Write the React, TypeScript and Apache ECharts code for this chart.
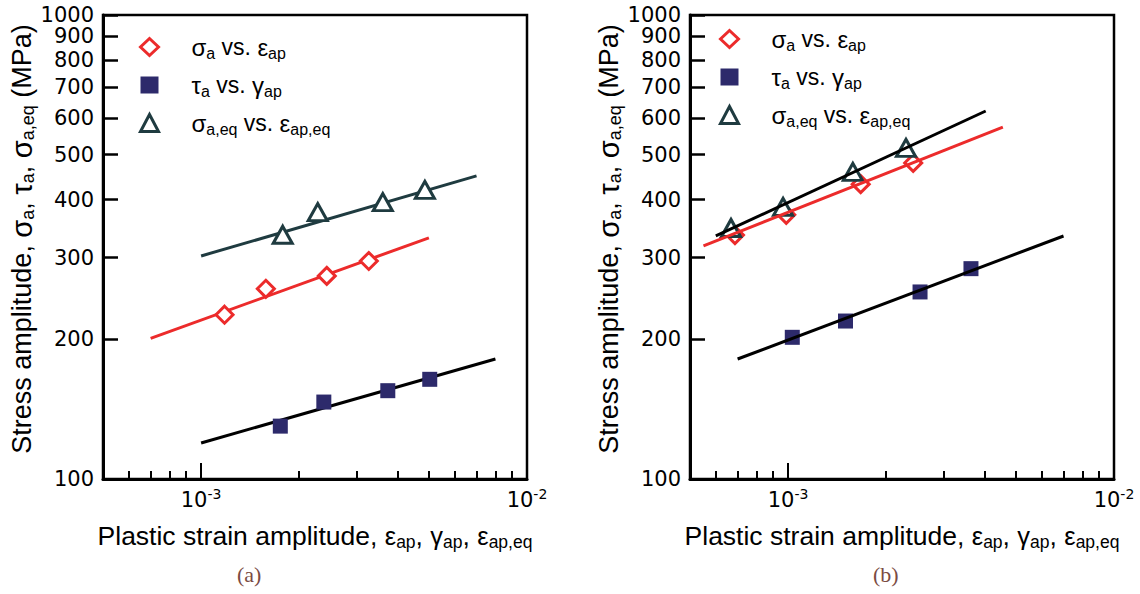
import React, { useEffect, useRef } from 'react';
import * as echarts from 'echarts';

const RED = '#ec2b2b';
const NAVY = '#2d2a6b';
const TEAL = '#1f3b40';
const BLACK = '#000000';

// ---- panel (a) ----
const aSigmaX = [1.18e-3, 1.58e-3, 2.43e-3, 3.27e-3];
const aSigmaY = [226, 257, 274, 295];
const aSigmaFitX = [7.0e-4, 5.0e-3];
const aSigmaFitY = [201, 331];
const aTauX = [1.75e-3, 2.38e-3, 3.74e-3, 5.03e-3];
const aTauY = [130, 146.5, 155, 164];
const aTauFitX = [1.0e-3, 8.0e-3];
const aTauFitY = [119.6, 181.4];
const aEqX = [1.78e-3, 2.28e-3, 3.61e-3, 4.86e-3];
const aEqY = [336, 376, 395, 420];
const aEqFitX = [1.0e-3, 7.0e-3];
const aEqFitY = [302.5, 450];

// ---- panel (b) ----
const bSigmaX = [6.87e-4, 9.87e-4, 1.67e-3, 2.42e-3];
const bSigmaY = [335.5, 371, 432, 480];
const bSigmaFitX = [5.5e-4, 4.56e-3];
const bSigmaFitY = [318, 573];
const bTauX = [1.03e-3, 1.5e-3, 2.54e-3, 3.64e-3];
const bTauY = [202, 219, 253, 284];
const bTauFitX = [7.0e-4, 7.0e-3];
const bTauFitY = [181.4, 334];
const bEqX = [6.68e-4, 9.65e-4, 1.58e-3, 2.3e-3];
const bEqY = [347.5, 386, 459, 517];
const bEqFitX = [6.0e-4, 4.04e-3];
const bEqFitY = [334, 621];

// ---- axes ----
const xMin = 5e-4;
const xMax = 1e-2;
const yMin = 100;
const yMax = 1000;
const yTicks = [100, 200, 300, 400, 500, 600, 700, 800, 900, 1000];
const xMajorTicks = [1e-3, 1e-2];
const xMinorTicks = [6e-4, 7e-4, 8e-4, 9e-4, 2e-3, 3e-3, 4e-3, 5e-3, 6e-3, 7e-3, 8e-3, 9e-3];
const legendNames = ['σa vs. εap', 'τa vs. γap', 'σa,eq vs. εap,eq'];
const legendRich = [
  '{sp| }{g|σ}{s|a}{m| vs. }{g|ε}{s|ap}',
  '{sp| }{g|τ}{s|a}{m| vs. }{g|γ}{s|ap}',
  '{sp| }{g|σ}{s|a,eq}{m| vs. }{g|ε}{s|ap,eq}',
];
const captions = ['(a)', '(b)'];

const SANS = '"Liberation Sans", Arial, sans-serif';
const TICKFONT = '"DejaVu Sans", sans-serif';
const EPS = 1.000001; // guards the log-scale rounding of the top tick

const zip = (xs: number[], ys: number[]) => xs.map((x, i) => [x, ys[i]]);

// the 900 label sits too close to 1000 for ECharts' overlap check, so it is carried by the overlay axis
const yLabelsMain = yTicks.filter((_, i) => i !== yTicks.length - 2);
const yLabelsAlt = [yTicks[yTicks.length - 2]];

const panels = [
  {
    left: 103,
    sigma: zip(aSigmaX, aSigmaY), sigmaFit: zip(aSigmaFitX, aSigmaFitY),
    tau: zip(aTauX, aTauY), tauFit: zip(aTauFitX, aTauFitY),
    eq: zip(aEqX, aEqY), eqFit: zip(aEqFitX, aEqFitY),
    eqFitColor: TEAL, lineZ: 2, caption: captions[0], capX: 249,
    legLeft: 134, legTop: 30,
  },
  {
    left: 690,
    sigma: zip(bSigmaX, bSigmaY), sigmaFit: zip(bSigmaFitX, bSigmaFitY),
    tau: zip(bTauX, bTauY), tauFit: zip(bTauFitX, bTauFitY),
    eq: zip(bEqX, bEqY), eqFit: zip(bEqFitX, bEqFitY),
    eqFitColor: BLACK, lineZ: 5, caption: captions[1], capX: 885,
    legLeft: 714, legTop: 22,
  },
];

const GRID_TOP = 15;
const GRID_W = 424;
const GRID_H = 464;

const yLabelStyle = {
  show: true, margin: 9, fontFamily: TICKFONT, fontSize: 21, lineHeight: 18, color: '#000',
  showMinLabel: true, showMaxLabel: true, hideOverlap: false,
  formatter: (v: number) => String(Math.round(v)),
};

export default function App() {
  const ref = useRef<HTMLDivElement>(null);
  useEffect(() => {
    if (!ref.current) return;
    const chart = echarts.init(ref.current, undefined, { renderer: 'svg' });

    const grid: any[] = [];
    const xAxis: any[] = [];
    const yAxis: any[] = [];
    const series: any[] = [];
    const legend: any[] = [];
    const graphic: any[] = [];

    panels.forEach((p, i) => {
      const g = i * 2;
      grid.push({ left: p.left, top: GRID_TOP, width: GRID_W, height: GRID_H, show: true, borderColor: '#000', borderWidth: 2.5, backgroundColor: 'transparent' });
      grid.push({ left: p.left, top: GRID_TOP, width: GRID_W, height: GRID_H, show: false });

      xAxis.push({
        gridIndex: g, type: 'log', logBase: 10, min: xMin, max: xMax * EPS,
        axisLine: { show: true, lineStyle: { color: '#000', width: 3 } },
        axisTick: { show: true, inside: true, length: 16, lineStyle: { color: '#000', width: 2 }, customValues: xMajorTicks },
        axisLabel: {
          show: true, customValues: xMajorTicks, margin: 8, showMinLabel: true, showMaxLabel: true,
          formatter: (v: number) => `{b|10}{p|${Math.round(Math.log10(v))}}`,
          rich: {
            b: { fontFamily: TICKFONT, fontSize: 21, color: '#000', lineHeight: 26 },
            p: { fontFamily: TICKFONT, fontSize: 14, color: '#000', lineHeight: 14, verticalAlign: 'top' },
          },
        },
        splitLine: { show: false },
        name: '{m|Plastic strain amplitude, }{g|ε}{s|ap}{m|, }{g|γ}{s|ap}{m|, }{g|ε}{s|ap,eq}',
        nameLocation: 'middle', nameGap: 42,
        nameTextStyle: {
          rich: {
            m: { fontFamily: SANS, fontSize: 26.5, color: '#000', lineHeight: 30 },
            g: { fontFamily: SANS, fontSize: 25.5, color: '#000', lineHeight: 30 },
            s: { fontFamily: SANS, fontSize: 17.5, color: '#000', lineHeight: 15, verticalAlign: 'bottom' },
          },
        },
      });
      xAxis.push({
        gridIndex: g + 1, type: 'log', logBase: 10, min: xMin, max: xMax * EPS,
        axisLine: { show: false },
        axisTick: { show: true, inside: true, length: 8, lineStyle: { color: '#000', width: 2 }, customValues: xMinorTicks },
        axisLabel: { show: false },
        splitLine: { show: false },
      });

      yAxis.push({
        gridIndex: g, type: 'log', logBase: 10, min: yMin, max: yMax * EPS,
        axisLine: { show: true, lineStyle: { color: '#000', width: 3 } },
        axisTick: { show: true, inside: true, length: 15, lineStyle: { color: '#000', width: 2.5 }, customValues: yTicks },
        axisLabel: { ...yLabelStyle, customValues: yLabelsMain },
        splitLine: { show: false },
        name: '{m|Stress amplitude, }{g|σ}{s|a}{m|, }{g|τ}{s|a}{m|, }{g|σ}{s|a,eq}{m| (MPa)}',
        nameLocation: 'middle', nameRotate: 90, nameGap: 64,
        nameTextStyle: {
          padding: [0, 0, 0, 16],
          rich: {
            m: { fontFamily: SANS, fontSize: 27, color: '#000', lineHeight: 30 },
            g: { fontFamily: SANS, fontSize: 29, color: '#000', lineHeight: 30 },
            s: { fontFamily: SANS, fontSize: 18, color: '#000', lineHeight: 15, verticalAlign: 'bottom' },
          },
        },
      });
      yAxis.push({
        gridIndex: g + 1, type: 'log', logBase: 10, min: yMin, max: yMax * EPS, show: true,
        axisLine: { show: false }, axisTick: { show: false }, splitLine: { show: false },
        axisLabel: { ...yLabelStyle, customValues: yLabelsAlt },
      });

      const lineBase = { type: 'line', xAxisIndex: g, yAxisIndex: g, symbol: 'none', silent: true, z: p.lineZ };
      series.push({ ...lineBase, name: 'fit σ ' + i, data: p.sigmaFit, lineStyle: { color: RED, width: 3 } });
      series.push({ ...lineBase, name: 'fit τ ' + i, data: p.tauFit, lineStyle: { color: BLACK, width: 3 } });
      series.push({ ...lineBase, name: 'fit eq ' + i, data: p.eqFit, lineStyle: { color: p.eqFitColor, width: 3 } });

      series.push({ type: 'scatter', name: legendNames[0], xAxisIndex: g, yAxisIndex: g, data: p.sigma, symbol: 'diamond', symbolSize: 17, z: 4,
        itemStyle: { color: '#fff', borderColor: RED, borderWidth: 3, opacity: 1 } });
      series.push({ type: 'scatter', name: legendNames[1], xAxisIndex: g, yAxisIndex: g, data: p.tau, symbol: 'rect', symbolSize: 15, z: 4,
        itemStyle: { color: NAVY, opacity: 1 } });
      series.push({ type: 'scatter', name: legendNames[2], xAxisIndex: g, yAxisIndex: g, data: p.eq, symbol: 'triangle', symbolSize: [19, 17], z: 4,
        itemStyle: { color: '#fff', borderColor: TEAL, borderWidth: 3, opacity: 1 } });

      legend.push({
        show: true, orient: 'vertical', left: p.legLeft, top: p.legTop, itemWidth: 18, itemHeight: 17, itemGap: 12,
        selectedMode: false,
        data: [
          { name: legendNames[0], icon: 'diamond', itemStyle: { color: '#fff', borderColor: RED, borderWidth: 3 } },
          { name: legendNames[1], icon: 'rect', itemStyle: { color: NAVY, borderWidth: 0 } },
          { name: legendNames[2], icon: 'triangle', itemStyle: { color: '#fff', borderColor: TEAL, borderWidth: 3 } },
        ],
        formatter: (name: string) => legendRich[legendNames.indexOf(name)],
        textStyle: {
          rich: {
            sp: { width: 28, fontSize: 10, lineHeight: 28 },
            m: { fontFamily: SANS, fontSize: 23, color: '#000', lineHeight: 28 },
            g: { fontFamily: SANS, fontSize: 24, color: '#000', lineHeight: 28 },
            s: { fontFamily: SANS, fontSize: 16, color: '#000', lineHeight: 14, verticalAlign: 'bottom' },
          },
        },
      });

      graphic.push({
        type: 'text', left: p.capX - 12, top: 563,
        style: { text: p.caption, font: '22px "Liberation Serif", "DejaVu Serif", serif', fill: '#7b4b43' },
      });
    });

    chart.setOption({
      animation: false,
      backgroundColor: '#ffffff',
      grid, xAxis, yAxis, series, legend, graphic,
    });
    return () => chart.dispose();
  }, []);

  return <div ref={ref} style={{ position: 'fixed', left: 0, top: 0, width: 1140, height: 594 }} />;
}
